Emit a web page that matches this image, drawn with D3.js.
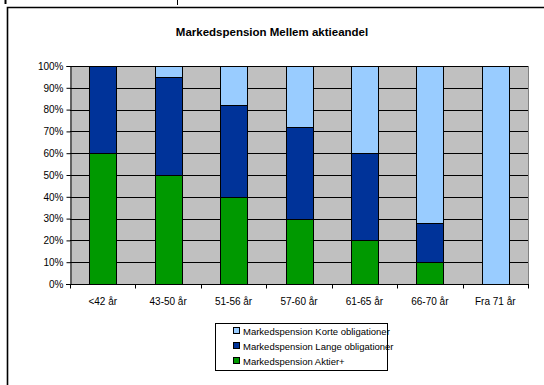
<!DOCTYPE html>
<html><head><meta charset="utf-8">
<script src="https://cdn.jsdelivr.net/npm/d3@7"></script>
<style>html,body{margin:0;background:#fff;overflow:hidden}svg{display:block}text{font-family:"Liberation Sans",Arial,sans-serif}</style>
</head><body><svg id="c" width="544" height="385"></svg>
<script>
const categories = ["<42 år","43-50 år","51-56 år","57-60 år","61-65 år","66-70 år","Fra 71 år"];
const aktier = [60,50,40,30,20,10,0];
const lange  = [40,45,42,42,40,18,0];
const korte  = [0,5,18,28,40,72,100];
const yTicks = [0,10,20,30,40,50,60,70,80,90,100];
const seriesNames = ["Markedspension Korte obligationer","Markedspension Lange obligationer","Markedspension Aktier+"];
const colors = {aktier:"#009900", lange:"#003399", korte:"#99ccff"};

const svg = d3.select("#c");
// outer frame (left and top edges visible only)
svg.append("path").attr("d","M7.5,385V7.5H544").attr("fill","none").attr("stroke","#000").attr("stroke-width",1.6);
// small page artifacts
svg.append("line").attr("x1",5.5).attr("x2",5.5).attr("y1",0).attr("y2",4).attr("stroke","#000").attr("stroke-width",2);
svg.append("line").attr("x1",177.5).attr("x2",177.5).attr("y1",0).attr("y2",5).attr("stroke","#000").attr("stroke-width",1);

svg.append("text").attr("x",272).attr("y",36).attr("text-anchor","middle")
  .attr("font-size","11.5px").attr("font-weight","bold").text("Markedspension Mellem aktieandel");

const L=70, R=528, T=66, B=284;
const x = d3.scaleBand().domain(categories).range([L,R]).paddingInner(0.59).paddingOuter(0.295);
const y = d3.scaleLinear().domain([0,100]).range([B,T]);

svg.append("rect").attr("x",L).attr("y",T).attr("width",R-L).attr("height",B-T).attr("fill","#c0c0c0");
svg.append("g").selectAll("line").data(yTicks.slice(1)).join("line")
  .attr("x1",L).attr("x2",R).attr("y1",d=>Math.round(y(d))+0.5).attr("y2",d=>Math.round(y(d))+0.5)
  .attr("stroke","#000").attr("stroke-width",1);
svg.append("line").attr("x1",R+0.5).attr("x2",R+0.5).attr("y1",T).attr("y2",B).attr("stroke","#808080");

const rows = categories.map((c,i)=>({cat:c, aktier:aktier[i], lange:lange[i], korte:korte[i]}));
const stack = d3.stack().keys(["aktier","lange","korte"])(rows);
svg.append("g").selectAll("g").data(stack).join("g").attr("fill",d=>colors[d.key])
  .selectAll("rect").data(d=>d.filter(p=>p[1]-p[0]>0)).join("rect")
  .attr("x",d=>Math.round(x(d.data.cat))+0.5).attr("width",Math.round(x.bandwidth()))
  .attr("y",d=>Math.round(y(d[1]))+0.5).attr("height",d=>Math.round(y(d[0]))-Math.round(y(d[1])))
  .attr("stroke","#000").attr("stroke-width",1);

// axes
const ya = svg.append("g").attr("transform",`translate(${L+0.5},0)`)
  .call(d3.axisLeft(y).tickValues(yTicks).tickFormat(d=>d+"%").tickSize(4).tickPadding(3));
ya.select(".domain").attr("stroke","#000");
ya.selectAll("text").attr("font-size","10px").attr("font-family","Liberation Sans, Arial, sans-serif");

const xa = svg.append("g").attr("transform",`translate(0,${B+0.5})`);
xa.append("line").attr("x1",L-4).attr("x2",R+1).attr("y1",0).attr("y2",0).attr("stroke","#000");
const step = (R-L)/categories.length;
xa.selectAll("line.t").data(d3.range(categories.length+1)).join("line").attr("class","t")
  .attr("x1",i=>Math.round(L+i*step)+0.5).attr("x2",i=>Math.round(L+i*step)+0.5).attr("y1",0).attr("y2",4).attr("stroke","#000");
xa.selectAll("text").data(categories).join("text")
  .attr("x",d=>x(d)+x.bandwidth()/2).attr("y",20).attr("text-anchor","middle")
  .attr("font-size","10px").text(d=>d);

// legend
const lg = svg.append("g");
lg.append("rect").attr("x",215.5).attr("y",323.5).attr("width",172).attr("height",47).attr("fill","#fff").attr("stroke","#000");
const lc = [colors.korte, colors.lange, colors.aktier];
seriesNames.forEach((n,i)=>{
  const yy = 331 + i*15;
  lg.append("rect").attr("x",233.5).attr("y",yy-3.5).attr("width",6).attr("height",6).attr("fill",lc[i]).attr("stroke","#000");
  lg.append("text").attr("x",243).attr("y",yy+3.5).attr("font-size","9.5px").text(n);
});
</script></body></html>
